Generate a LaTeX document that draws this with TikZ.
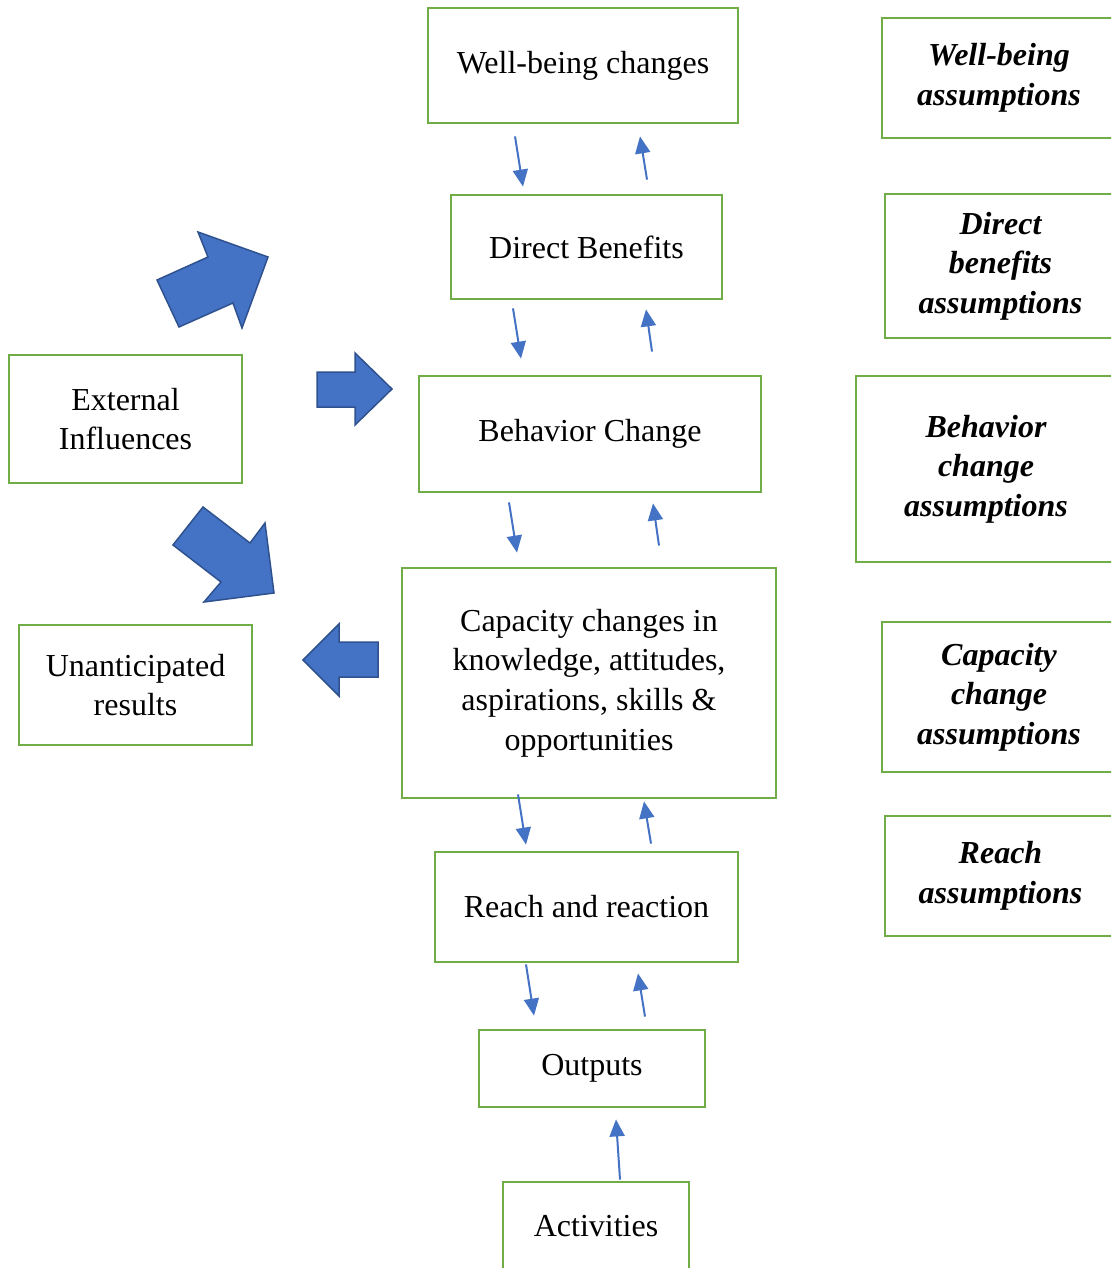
\documentclass[tikz,border=0pt]{standalone}
\usepackage{fontspec}
\setmainfont{Liberation Serif}
\usetikzlibrary{arrows.meta,positioning}
\definecolor{boxgreen}{HTML}{70AD47}
\definecolor{flowblue}{HTML}{4472C4}
\definecolor{edgeblue}{HTML}{2F528F}

\begin{document}
\begin{tikzpicture}[x=1pt,y=-1pt,font=\fontsize{32}{39.6}\selectfont,
 box/.style={draw=boxgreen,line width=2.8pt,align=center,inner sep=0pt},
 asm/.style={box,font=\fontsize{32}{39.6}\selectfont\bfseries\itshape},
 flow/.style={-{Triangle[length=17pt,width=15pt]},draw=flowblue,line width=2pt},
 fat/.style={fill=flowblue,draw=edgeblue,line width=1.5pt,line join=miter}]
 \useasboundingbox (0,0) rectangle (1111,1268);
 \clip (0,0) rectangle (1111,1268);
 % middle column
 \node[box,minimum width=310pt,minimum height=115pt] (wb) at (583,65.5) {Well-being changes};
 \node[box,minimum width=271pt,minimum height=104pt] (db) at (586.5,247) {Direct Benefits};
 \node[box,minimum width=342pt,minimum height=116pt] (bc) at (590,434) {Behavior Change};
 \node[box,minimum width=374pt,minimum height=230pt] (cap) at (589,683)
 {Capacity changes in\\knowledge, attitudes,\\aspirations, skills \&\\opportunities};
 \node[box,minimum width=303pt,minimum height=110pt] (reach) at (586.5,907) {Reach and reaction};
 \node[box,minimum width=226pt,minimum height=77pt] (out) at (592,1068.5) {Outputs};
 \node[box,minimum width=186pt,minimum height=88pt] (act) at (596,1226) {Activities};
 % left side
 \node[box,minimum width=233pt,minimum height=128pt] (ext) at (125.5,419) {External\\Influences};
 \node[box,minimum width=233pt,minimum height=120pt] (unant) at (135.5,685) {Unanticipated\\results};
 % assumptions
 \node[asm,minimum width=234pt,minimum height=120pt] (wbasm) at (999,78) {Well-being\\assumptions};
 \node[asm,minimum width=231pt,minimum height=144pt] (dbasm) at (1000.5,266) {Direct\\benefits\\assumptions};
 \node[asm,minimum width=260pt,minimum height=186pt] (bcasm) at (986,469) {Behavior\\change\\assumptions};
 \node[asm,minimum width=234pt,minimum height=150pt] (capasm) at (999,697) {Capacity\\change\\assumptions};
 \node[asm,minimum width=231pt,minimum height=120pt] (reachasm) at (1000.5,876) {Reach\\assumptions};
 % thin arrows
 \draw[flow] ([xshift=-68pt,yshift=-12pt]wb.south)--([xshift=-63.5pt,yshift=7pt]db.north);
 \draw[flow] ([xshift=60.5pt,yshift=14pt]db.north)--([xshift=57pt,yshift=-12pt]wb.south);
 \draw[flow] ([xshift=-73.5pt,yshift=-8pt]db.south)--([xshift=-69pt,yshift=16pt]bc.north);
 \draw[flow] ([xshift=62pt,yshift=23pt]bc.north)--([xshift=59.5pt,yshift=-9pt]db.south);
 \draw[flow] ([xshift=-81pt,yshift=-9pt]bc.south)--([xshift=-72pt,yshift=14pt]cap.north);
 \draw[flow] ([xshift=70pt,yshift=21pt]cap.north)--([xshift=63pt,yshift=-10pt]bc.south);
 \draw[flow] ([xshift=-71pt,yshift=5pt]cap.south)--([xshift=-60.5pt,yshift=6pt]reach.north);
 \draw[flow] ([xshift=64.5pt,yshift=7pt]reach.north)--([xshift=55pt,yshift=-2pt]cap.south);
 \draw[flow] ([xshift=-60.5pt,yshift=-1pt]reach.south)--([xshift=-58pt,yshift=13pt]out.north);
 \draw[flow] ([xshift=53pt,yshift=12pt]out.north)--([xshift=51.5pt,yshift=-10pt]reach.south);
 \draw[flow] ([xshift=24pt,yshift=1pt]act.north)--([xshift=24pt,yshift=-11pt]out.south);
 % block arrows
 \draw[fat] (157,280)--(208,257)--(198,232)--(268,257)--(242,328)--(233,303)--(179,327)--cycle;
 \draw[fat] (317,372)--(355,372)--(355,353)--(392,389)--(355,425)--(355,407)--(317,407)--cycle;
 \draw[fat] (203,507)--(250,543)--(265,523)--(274,593)--(204,602)--(221,582)--(173,545)--cycle;
 \draw[fat] (303,660)--(339,624)--(339,642)--(378,642)--(378,677)--(339,677)--(339,696)--cycle;
\end{tikzpicture}
\end{document}
